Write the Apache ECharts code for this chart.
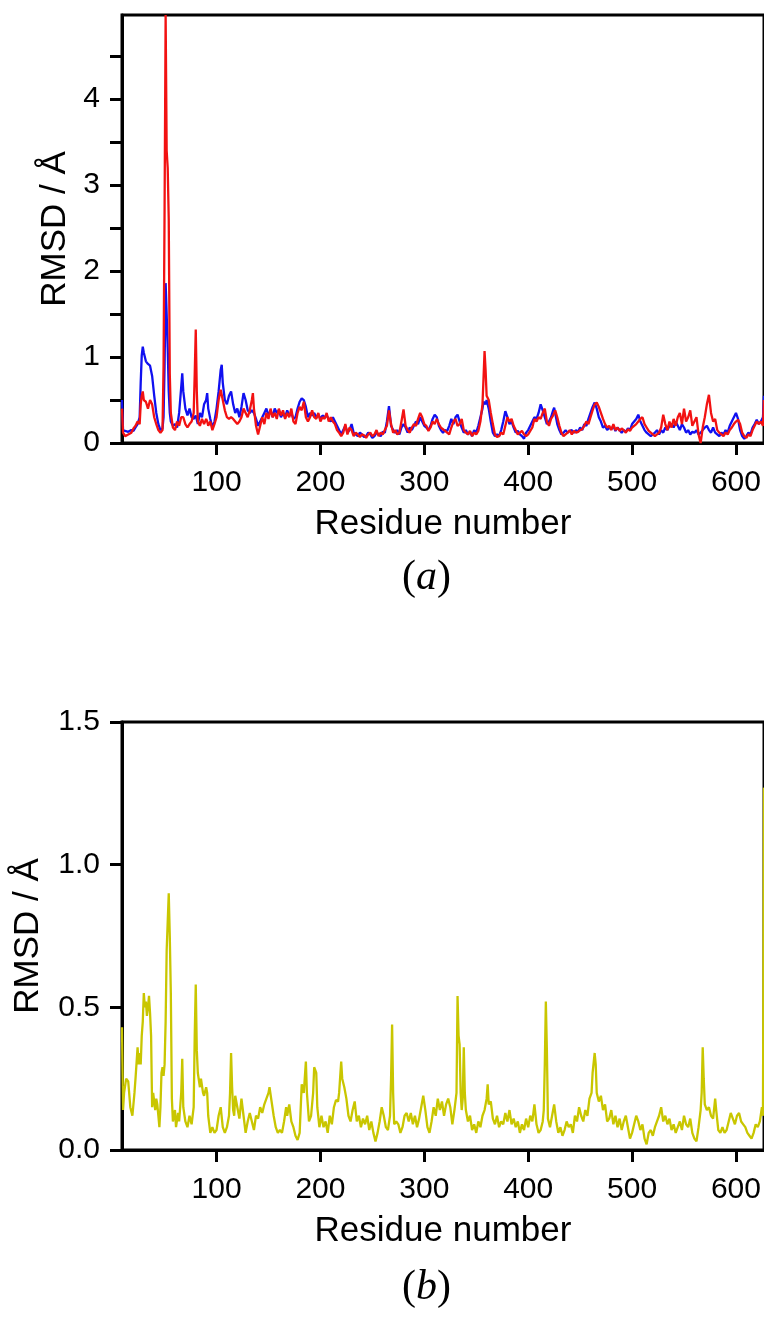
<!DOCTYPE html>
<html>
<head>
<meta charset="utf-8">
<script src="https://cdn.jsdelivr.net/npm/echarts@6/dist/echarts.min.js"></script>
<style>
  html, body { margin: 0; padding: 0; background: #fff; }
  #chart { width: 764px; height: 1319px; }
</style>
</head>
<body>
<div id="chart"></div>
<script>
// panel (a): residue numbers with blue and red RMSD traces
var resA = [9,10,12,15,18,20,22,24,26,27,28,29,30,32,34,36,38,40,42,44,46,48,49,50,51,52,53,54,55,56,58,60,62,64,66,67,68,70,72,74,76,78,79,80,81,82,84,86,88,90,91,92,94,96,98,100,102,104,105,106,108,110,112,114,116,118,120,122,124,126,128,130,132,134,135,136,138,140,142,144,146,148,150,152,154,156,158,160,162,164,166,168,170,172,174,176,178,180,182,184,186,188,190,192,194,196,198,200,202,204,206,208,210,212,214,216,218,220,222,224,226,228,230,232,234,236,238,240,242,244,246,248,250,252,254,256,258,260,262,264,266,268,270,272,274,276,278,280,282,284,286,288,290,292,294,296,298,300,302,304,306,308,310,312,314,316,318,320,322,324,326,328,330,332,334,336,338,340,342,344,346,348,350,352,354,356,357,358,359,360,362,364,366,368,370,372,374,376,378,380,382,384,386,388,390,392,394,396,398,400,402,404,406,408,410,412,414,416,418,420,422,424,425,426,428,430,432,434,436,438,440,442,444,446,448,450,452,454,456,458,460,462,464,466,468,470,472,474,476,478,480,482,484,486,488,490,492,494,496,498,500,502,504,506,508,510,512,514,516,518,520,522,524,526,528,530,532,534,536,538,540,542,544,546,548,550,552,554,556,558,560,562,564,566,568,570,572,574,576,578,580,582,584,586,588,590,592,594,596,598,600,602,604,606,608,610,612,614,616,618,620,622,624,626,627];
var blueA = [0.50,0.15,0.14,0.13,0.15,0.14,0.18,0.22,0.30,0.70,1.02,1.12,1.05,0.95,0.92,0.90,0.78,0.55,0.35,0.22,0.15,0.17,0.30,0.90,1.86,1.50,1.10,0.60,0.35,0.25,0.20,0.22,0.18,0.35,0.65,0.81,0.60,0.40,0.32,0.40,0.30,0.28,0.30,0.32,0.30,0.22,0.35,0.30,0.45,0.50,0.58,0.40,0.28,0.18,0.25,0.40,0.60,0.85,0.91,0.70,0.50,0.45,0.55,0.60,0.45,0.35,0.40,0.30,0.42,0.58,0.50,0.38,0.35,0.38,0.40,0.35,0.28,0.20,0.25,0.30,0.35,0.40,0.32,0.38,0.30,0.40,0.35,0.38,0.30,0.35,0.30,0.38,0.32,0.35,0.28,0.30,0.40,0.48,0.52,0.50,0.42,0.30,0.35,0.32,0.35,0.30,0.33,0.28,0.32,0.30,0.32,0.28,0.25,0.30,0.25,0.20,0.15,0.10,0.15,0.20,0.12,0.15,0.22,0.12,0.10,0.08,0.12,0.10,0.07,0.08,0.12,0.10,0.06,0.08,0.12,0.10,0.08,0.13,0.12,0.25,0.43,0.20,0.15,0.12,0.15,0.10,0.18,0.22,0.18,0.12,0.18,0.15,0.20,0.25,0.22,0.30,0.25,0.20,0.18,0.15,0.20,0.28,0.33,0.30,0.20,0.15,0.12,0.15,0.14,0.20,0.28,0.22,0.30,0.33,0.25,0.18,0.12,0.15,0.10,0.13,0.08,0.15,0.12,0.20,0.30,0.40,0.48,0.50,0.45,0.50,0.40,0.25,0.12,0.08,0.10,0.08,0.15,0.25,0.37,0.30,0.22,0.25,0.18,0.12,0.14,0.10,0.08,0.05,0.12,0.15,0.20,0.25,0.30,0.28,0.35,0.45,0.38,0.30,0.22,0.25,0.30,0.38,0.41,0.35,0.22,0.15,0.10,0.12,0.15,0.12,0.14,0.15,0.12,0.15,0.13,0.18,0.15,0.22,0.20,0.28,0.35,0.42,0.47,0.40,0.30,0.25,0.18,0.20,0.15,0.18,0.16,0.20,0.14,0.18,0.15,0.12,0.15,0.13,0.17,0.15,0.22,0.25,0.28,0.33,0.25,0.20,0.15,0.12,0.10,0.08,0.10,0.12,0.15,0.10,0.15,0.12,0.18,0.15,0.20,0.22,0.18,0.25,0.20,0.15,0.22,0.18,0.12,0.15,0.10,0.13,0.12,0.15,0.10,0.12,0.15,0.18,0.20,0.15,0.12,0.18,0.12,0.10,0.08,0.12,0.10,0.15,0.12,0.20,0.25,0.30,0.35,0.28,0.15,0.08,0.05,0.08,0.12,0.10,0.18,0.22,0.27,0.22,0.25,0.30,0.55];
var redA = [0.40,0.12,0.08,0.10,0.12,0.17,0.20,0.25,0.22,0.45,0.55,0.60,0.50,0.48,0.40,0.50,0.45,0.30,0.22,0.15,0.12,0.15,0.90,2.75,4.98,3.40,3.20,2.60,0.80,0.35,0.18,0.15,0.25,0.20,0.30,0.32,0.30,0.22,0.18,0.22,0.25,0.35,0.80,1.32,0.60,0.25,0.20,0.28,0.22,0.28,0.25,0.20,0.25,0.15,0.22,0.30,0.50,0.62,0.64,0.50,0.38,0.30,0.28,0.30,0.28,0.25,0.22,0.25,0.30,0.40,0.35,0.30,0.38,0.50,0.58,0.40,0.20,0.10,0.20,0.30,0.22,0.35,0.28,0.40,0.30,0.35,0.28,0.40,0.32,0.38,0.28,0.35,0.30,0.40,0.25,0.22,0.35,0.42,0.38,0.48,0.30,0.25,0.30,0.38,0.30,0.28,0.35,0.25,0.30,0.28,0.35,0.25,0.30,0.25,0.22,0.15,0.12,0.08,0.12,0.22,0.10,0.18,0.15,0.08,0.12,0.10,0.07,0.10,0.09,0.06,0.10,0.12,0.08,0.10,0.15,0.08,0.12,0.10,0.15,0.20,0.38,0.22,0.12,0.15,0.10,0.12,0.25,0.39,0.20,0.15,0.12,0.18,0.22,0.20,0.28,0.35,0.30,0.22,0.20,0.14,0.18,0.25,0.22,0.28,0.22,0.18,0.16,0.14,0.12,0.10,0.18,0.25,0.28,0.20,0.22,0.28,0.15,0.12,0.10,0.14,0.08,0.12,0.10,0.14,0.25,0.45,0.75,1.07,0.85,0.55,0.50,0.35,0.22,0.10,0.07,0.08,0.12,0.10,0.20,0.30,0.25,0.28,0.20,0.15,0.10,0.12,0.14,0.10,0.08,0.10,0.14,0.18,0.28,0.25,0.30,0.28,0.35,0.40,0.25,0.20,0.28,0.32,0.35,0.38,0.30,0.20,0.12,0.08,0.10,0.12,0.15,0.10,0.14,0.12,0.13,0.15,0.16,0.20,0.25,0.22,0.30,0.38,0.45,0.47,0.42,0.35,0.28,0.22,0.18,0.20,0.15,0.22,0.15,0.18,0.14,0.17,0.15,0.12,0.16,0.14,0.18,0.20,0.22,0.25,0.28,0.30,0.22,0.18,0.14,0.12,0.10,0.08,0.10,0.12,0.18,0.33,0.22,0.15,0.25,0.18,0.28,0.20,0.30,0.35,0.22,0.40,0.25,0.30,0.38,0.20,0.25,0.30,0.10,0.00,0.18,0.30,0.45,0.56,0.35,0.25,0.28,0.15,0.12,0.10,0.08,0.12,0.10,0.15,0.18,0.22,0.25,0.27,0.22,0.12,0.08,0.06,0.10,0.08,0.15,0.20,0.25,0.22,0.25,0.20,0.50,1.53];

// panel (b): residue numbers with the yellow RMSD trace
var resB = [9,10,11,13,15,17,19,21,22,24,25,26,27,28,29,30,31,32,33,34,35,36,37,38,39,40,41,42,43,44,45,46,47,48,49,50,51,52,53,54,55,56,57,58,60,61,63,64,66,67,68,70,72,74,76,78,79,80,81,82,84,85,87,88,90,91,92,94,96,98,100,102,104,106,108,110,112,113,114,115,116,117,118,120,122,124,126,128,130,132,134,136,138,140,142,144,146,148,150,151,153,155,157,159,161,163,165,167,168,170,172,174,176,178,180,182,184,186,187,189,191,193,194,196,197,199,201,203,205,207,209,211,213,215,217,218,220,221,223,225,227,229,231,233,235,237,239,241,243,245,247,249,251,253,255,257,259,261,263,265,267,268,269,270,271,273,275,277,279,281,283,285,287,289,291,293,295,297,299,301,303,305,307,309,311,313,315,317,319,321,323,325,327,329,331,332,333,334,335,336,337,338,339,340,342,344,346,348,350,352,354,356,358,360,361,362,364,366,368,370,372,374,376,378,380,382,384,386,388,390,392,394,396,398,400,402,404,406,408,410,412,414,415,416,417,418,419,421,423,425,427,429,431,433,435,437,439,441,443,445,447,449,451,453,455,457,459,461,462,464,465,466,468,470,472,474,476,478,480,482,484,486,488,490,492,494,496,498,500,502,504,506,508,510,512,514,516,518,520,522,524,526,528,530,532,534,536,538,540,542,544,546,548,550,552,554,556,558,560,562,564,566,567,568,569,570,572,574,576,578,580,581,583,585,587,589,591,593,595,597,599,601,603,605,607,609,611,613,615,617,619,621,623,625,626,627];
var yellowB = [0.43,0.14,0.20,0.25,0.24,0.15,0.12,0.20,0.25,0.36,0.30,0.34,0.30,0.40,0.45,0.55,0.50,0.52,0.47,0.50,0.54,0.48,0.40,0.15,0.20,0.17,0.14,0.18,0.16,0.12,0.08,0.15,0.27,0.29,0.26,0.30,0.45,0.70,0.80,0.90,0.75,0.55,0.18,0.10,0.14,0.08,0.13,0.10,0.20,0.32,0.15,0.10,0.08,0.12,0.09,0.15,0.40,0.58,0.35,0.27,0.22,0.25,0.20,0.19,0.22,0.20,0.12,0.06,0.08,0.06,0.07,0.12,0.15,0.08,0.06,0.08,0.12,0.20,0.34,0.22,0.14,0.12,0.19,0.15,0.11,0.18,0.12,0.06,0.10,0.13,0.10,0.07,0.12,0.11,0.15,0.13,0.16,0.18,0.20,0.22,0.17,0.12,0.08,0.06,0.07,0.06,0.10,0.15,0.12,0.16,0.10,0.08,0.05,0.035,0.06,0.23,0.20,0.31,0.20,0.10,0.12,0.20,0.29,0.27,0.15,0.08,0.12,0.08,0.10,0.06,0.12,0.09,0.15,0.175,0.17,0.20,0.31,0.25,0.22,0.18,0.12,0.10,0.14,0.17,0.10,0.12,0.08,0.11,0.09,0.12,0.07,0.10,0.06,0.03,0.06,0.10,0.15,0.12,0.08,0.07,0.12,0.25,0.44,0.20,0.09,0.10,0.09,0.06,0.08,0.12,0.13,0.10,0.13,0.09,0.12,0.08,0.11,0.15,0.19,0.14,0.08,0.06,0.10,0.15,0.12,0.18,0.14,0.17,0.12,0.16,0.18,0.15,0.09,0.14,0.20,0.54,0.40,0.37,0.20,0.14,0.18,0.36,0.20,0.14,0.10,0.12,0.07,0.09,0.06,0.10,0.08,0.12,0.14,0.18,0.23,0.16,0.17,0.11,0.09,0.12,0.08,0.10,0.09,0.13,0.10,0.14,0.09,0.11,0.08,0.10,0.06,0.09,0.07,0.11,0.08,0.12,0.10,0.16,0.09,0.06,0.07,0.10,0.14,0.30,0.52,0.35,0.11,0.08,0.12,0.16,0.10,0.06,0.08,0.05,0.07,0.10,0.08,0.09,0.06,0.12,0.10,0.15,0.12,0.10,0.14,0.12,0.18,0.20,0.27,0.34,0.30,0.20,0.17,0.19,0.14,0.16,0.10,0.11,0.14,0.09,0.12,0.08,0.11,0.07,0.10,0.12,0.08,0.04,0.06,0.09,0.12,0.10,0.07,0.09,0.04,0.02,0.06,0.07,0.05,0.08,0.10,0.12,0.15,0.10,0.12,0.09,0.11,0.07,0.09,0.06,0.08,0.10,0.07,0.12,0.09,0.08,0.11,0.06,0.04,0.03,0.08,0.14,0.20,0.36,0.25,0.16,0.14,0.15,0.12,0.11,0.18,0.14,0.07,0.06,0.08,0.06,0.07,0.10,0.13,0.11,0.09,0.12,0.13,0.10,0.09,0.08,0.06,0.05,0.04,0.06,0.09,0.08,0.10,0.15,0.12,1.27];

var xTicks = [100, 200, 300, 400, 500, 600]
var yTicksA = [0, 0.5, 1, 1.5, 2, 2.5, 3, 3.5, 4, 4.5]
var yLabelsA = [0, 1, 2, 3, 4]
var yTicksB = [0, 0.5, 1, 1.5]

var font = 'Liberation Sans, Arial, sans-serif'
var serif = 'Liberation Serif, Times New Roman, serif'

function pairs(xs, ys) {
  return xs.map(function (x, i) { return [x, ys[i]] })
}

function xAxisFor(gridIndex) {
  return {
    type: 'value',
    gridIndex: gridIndex,
    min: 9,
    max: 627,
    name: 'Residue number',
    nameLocation: 'middle',
    nameGap: 64,
    nameTextStyle: { fontFamily: font, fontSize: 35, color: '#000' },
    splitLine: { show: false },
    axisLine: { show: true, onZero: false, lineStyle: { color: '#000', width: 3 } },
    axisTick: { show: true, length: 12, customValues: xTicks, lineStyle: { color: '#000', width: 3 } },
    axisLabel: { customValues: xTicks, margin: 25, fontFamily: font, fontSize: 30, color: '#000' }
  }
}

var chart = echarts.init(document.getElementById('chart'))

chart.setOption({
  animation: false,
  backgroundColor: '#fff',
  grid: [
    { left: 122, right: 0, top: 15, height: 428, show: true, borderColor: '#000', borderWidth: 3 },
    { left: 122, right: 0, top: 722, height: 428, show: true, borderColor: '#000', borderWidth: 3 }
  ],
  xAxis: [xAxisFor(0), xAxisFor(1)],
  yAxis: [{
    type: 'value',
    gridIndex: 0,
    min: 0,
    max: 4.98,
    name: 'RMSD / Å',
    nameLocation: 'middle',
    nameGap: 48,
    nameTextStyle: { fontFamily: font, fontSize: 35, color: '#000' },
    splitLine: { show: false },
    axisLine: { show: true, lineStyle: { color: '#000', width: 3 } },
    axisTick: { show: true, length: 12, customValues: yTicksA, lineStyle: { color: '#000', width: 3 } },
    axisLabel: { customValues: yLabelsA, margin: 22, fontFamily: font, fontSize: 30, color: '#000' }
  }, {
    type: 'value',
    gridIndex: 1,
    min: 0,
    max: 1.5,
    name: 'RMSD / Å',
    nameLocation: 'middle',
    nameGap: 76,
    nameTextStyle: { fontFamily: font, fontSize: 35, color: '#000' },
    splitLine: { show: false },
    axisLine: { show: true, lineStyle: { color: '#000', width: 3 } },
    axisTick: { show: true, length: 12, customValues: yTicksB, lineStyle: { color: '#000', width: 3 } },
    axisLabel: {
      customValues: yTicksB, margin: 22, fontFamily: font, fontSize: 30, color: '#000',
      formatter: function (v) { return v.toFixed(1) }
    }
  }],
  series: [{
    type: 'line',
    xAxisIndex: 0,
    yAxisIndex: 0,
    data: pairs(resA, blueA),
    showSymbol: false,
    lineStyle: { color: '#1010f0', width: 2.3 }
  }, {
    type: 'line',
    xAxisIndex: 0,
    yAxisIndex: 0,
    data: pairs(resA, redA),
    showSymbol: false,
    lineStyle: { color: '#f21212', width: 2.3 }
  }, {
    type: 'line',
    xAxisIndex: 1,
    yAxisIndex: 1,
    data: pairs(resB, yellowB),
    showSymbol: false,
    lineStyle: { color: '#c9c600', width: 2.3 }
  }],
  graphic: [{
    type: 'text',
    left: 402,
    top: 557,
    style: {
      text: '{p|(}{i|a}{p|)}',
      rich: {
        p: { fontFamily: serif, fontSize: 42, fill: '#000' },
        i: { fontFamily: serif, fontSize: 42, fontStyle: 'italic', fill: '#000' }
      }
    }
  }, {
    type: 'text',
    left: 402,
    top: 1267,
    style: {
      text: '{p|(}{i|b}{p|)}',
      rich: {
        p: { fontFamily: serif, fontSize: 42, fill: '#000' },
        i: { fontFamily: serif, fontSize: 42, fontStyle: 'italic', fill: '#000' }
      }
    }
  }]
})
</script>
</body>
</html>
